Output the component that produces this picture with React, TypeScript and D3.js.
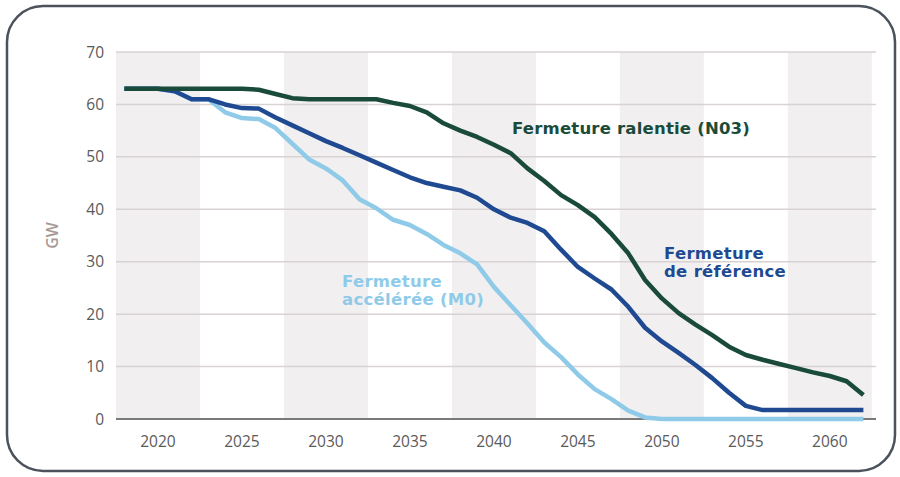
import React from 'react';
import * as d3 from 'd3';

const years = d3.range(2018, 2063);

// Fermeture ralentie (N03)
const ralentie = [
  63, 63, 63, 63, 63, 63, 63, 63, 62.8, 62, 61.2, 61, 61, 61, 61, 61,
  60.3, 59.7, 58.5, 56.4, 55, 53.8, 52.3, 50.7, 47.8, 45.4, 42.7, 40.8,
  38.5, 35.3, 31.6, 26.5, 23, 20.2, 18, 16, 13.8, 12.2, 11.3, 10.5, 9.7,
  8.9, 8.2, 7.2, 4.6,
];

// Fermeture de référence
const reference = [
  63, 63, 63, 62.5, 61, 61, 60, 59.3, 59.2, 57.5, 56, 54.5, 53, 51.7,
  50.3, 48.9, 47.5, 46.1, 45, 44.3, 43.6, 42.2, 40, 38.4, 37.4, 35.8, 32.3,
  29, 26.8, 24.7, 21.4, 17.4, 14.8, 12.6, 10.3, 7.8, 5, 2.5, 1.7, 1.7, 1.7,
  1.7, 1.7, 1.7, 1.7,
];

// Fermeture accélérée (M0)
const acceleree = [
  63, 63, 63, 62.5, 61, 61, 58.5, 57.4, 57.2, 55.5, 52.5, 49.5, 47.8, 45.5,
  41.9, 40.2, 38, 37, 35.3, 33.2, 31.6, 29.5, 25.2, 21.7, 18.2, 14.6, 11.8,
  8.5, 5.7, 3.8, 1.6, 0.3, 0, 0, 0, 0, 0, 0, 0, 0, 0, 0, 0, 0, 0,
];

const yTicks = [0, 10, 20, 30, 40, 50, 60, 70];
const xTicks = [2020, 2025, 2030, 2035, 2040, 2045, 2050, 2055, 2060];
const bandCenters = [2020, 2030, 2040, 2050, 2060];

const series = [
  { name: 'acceleree', values: acceleree, color: '#8fcbe8' },
  { name: 'reference', values: reference, color: '#1f4a91' },
  { name: 'ralentie', values: ralentie, color: '#1a4b3a' },
];

const W = 900;
const H = 477;
const left = 116;
const right = 876;
const top = 52;
const bottom = 419;

export default function App() {
  const x = d3.scaleLinear().domain([2017.5, 2062.75]).range([left, right]);
  const y = d3.scaleLinear().domain([0, 70]).range([bottom, top]);

  const line = d3
    .line<number>()
    .x((_, i) => x(years[i]))
    .y((d) => y(d));

  const tickFont = '"Open Sans", "Liberation Sans", sans-serif';
  const labelFont = '"DejaVu Sans", Verdana, sans-serif';

  return (
    <svg
      width={W}
      height={H}
      style={{ position: 'absolute', left: 0, top: 0, background: '#fff' }}
    >
      {/* frame */}
      <rect
        x={7}
        y={6}
        width={888}
        height={465}
        rx={36}
        ry={36}
        fill="#fff"
        stroke="#4b525c"
        strokeWidth={2.5}
      />

      {/* alternating bands */}
      {bandCenters.map((c) => (
        <rect
          key={c}
          x={Math.max(left, x(c - 2.5))}
          y={top}
          width={Math.min(right, x(c + 2.5)) - Math.max(left, x(c - 2.5))}
          height={bottom - top}
          fill="#f1eff0"
        />
      ))}

      {/* grid */}
      {yTicks.slice(1).map((t) => (
        <line
          key={t}
          x1={left}
          x2={right}
          y1={y(t)}
          y2={y(t)}
          stroke="#d9d2d2"
          strokeWidth={1.5}
        />
      ))}
      <line
        x1={left}
        x2={right}
        y1={y(0)}
        y2={y(0)}
        stroke="#7a7a7a"
        strokeWidth={2}
      />

      {/* y labels */}
      {yTicks.map((t) => (
        <text
          key={t}
          x={104}
          y={y(t)}
          dy="0.36em"
          textAnchor="end"
          fontFamily={tickFont}
          fontSize={15.5}
          fill="#5a5a5a"
        >
          {t}
        </text>
      ))}
      <text
        transform={`translate(58, ${y(35)}) rotate(-90)`}
        textAnchor="middle"
        fontFamily={tickFont}
        fontSize={16}
        fontWeight={600}
        fill="#a89a95"
      >
        GW
      </text>

      {/* x labels */}
      {xTicks.map((t) => (
        <text
          key={t}
          x={x(t)}
          y={447}
          textAnchor="middle"
          fontFamily={tickFont}
          fontSize={15.5}
          fill="#5a5a5a"
        >
          {t}
        </text>
      ))}

      {/* series */}
      {series.map((s) => (
        <path
          key={s.name}
          d={line(s.values) ?? ''}
          fill="none"
          stroke={s.color}
          strokeWidth={4.5}
          strokeLinejoin="round"
        />
      ))}

      {/* annotations */}
      <text
        x={512}
        y={134}
        fontFamily={labelFont}
        fontSize={16.5}
        letterSpacing={0.2}
        fontWeight="bold"
        fill="#1a4b3a"
      >
        Fermeture ralentie (N03)
      </text>
      <text
        fontFamily={labelFont}
        fontSize={16.5}
        letterSpacing={0.3}
        fontWeight="bold"
        fill="#1f4a91"
      >
        <tspan x={664} y={259}>Fermeture</tspan>
        <tspan x={664} y={277}>de référence</tspan>
      </text>
      <text
        fontFamily={labelFont}
        fontSize={16.5}
        letterSpacing={0.3}
        fontWeight="bold"
        fill="#8fcbe8"
      >
        <tspan x={342} y={287}>Fermeture</tspan>
        <tspan x={342} y={305}>accélérée (M0)</tspan>
      </text>
    </svg>
  );
}
